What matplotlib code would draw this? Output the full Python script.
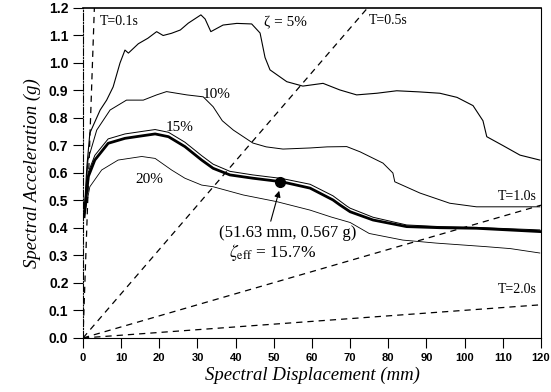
import numpy as np
import matplotlib.pyplot as plt

# damping 5%
x5 = [0.3, 1.0, 1.8, 4.5, 6.2, 7.9, 9.7, 11.0, 11.9, 14.5, 17.0, 19.3, 21.0, 23.2, 25.5, 27.6,
      30.9, 32.0, 33.5, 36.7, 40.3, 44.2, 46.4, 47.7, 49.0, 53.4, 57.6, 62.9, 67.3, 71.7,
      77.0, 82.2, 88.0, 93.5, 98.0, 102.2, 104.8, 105.8, 110.0, 114.5, 119.7]
y5 = [0.44, 0.62, 0.745, 0.829, 0.865, 0.913, 1.0, 1.047, 1.036, 1.07, 1.09, 1.114, 1.10, 1.108,
      1.12, 1.145, 1.175, 1.16, 1.114, 1.138, 1.144, 1.142, 1.109, 1.02, 0.975, 0.932, 0.916,
      0.926, 0.902, 0.884, 0.89, 0.899, 0.895, 0.89, 0.875, 0.845, 0.79, 0.732, 0.70, 0.665, 0.647]

# damping 10%
x10 = [0.3, 1.3, 3.6, 7.1, 11.4, 15.8, 19.3, 21.9, 27.2, 31.5, 34.1, 36.5, 39.4, 44.5, 48.0,
       52.4, 59.5, 64.0, 69.1, 72.6, 78.6, 81.2, 81.7, 88.3, 96.1, 103.1, 110.0, 119.7]
y10 = [0.44, 0.647, 0.756, 0.829, 0.865, 0.865, 0.884, 0.896, 0.884, 0.877, 0.841, 0.79,
       0.756, 0.709, 0.695, 0.687, 0.691, 0.695, 0.696, 0.677, 0.636, 0.60, 0.568, 0.527,
       0.49, 0.477, 0.477, 0.477]

# damping 15%
x15 = [0.3, 1.4, 3.1, 6.6, 11.0, 15.4, 18.9, 22.4, 26.7, 31.1, 34.1, 38.5, 44.5, 52.1, 59.5,
       65.5, 69.1, 70.0, 76.0, 84.8, 93.5, 103.1, 119.7]
y15 = [0.447, 0.603, 0.664, 0.724, 0.742, 0.751, 0.758, 0.748, 0.712, 0.663, 0.632, 0.606,
       0.593, 0.58, 0.559, 0.517, 0.48, 0.472, 0.439, 0.411, 0.405, 0.402, 0.393]

# effective damping 15.7%
xe = [0.3, 1.4, 3.1, 6.6, 11.0, 15.4, 18.9, 22.4, 26.7, 31.1, 34.1, 38.5, 44.5, 52.1, 59.5,
      65.5, 67.3, 70.0, 76.0, 84.8, 93.5, 103.1, 119.7]
ye = [0.441, 0.587, 0.647, 0.708, 0.726, 0.735, 0.742, 0.732, 0.696, 0.647, 0.617, 0.593,
      0.581, 0.568, 0.545, 0.502, 0.484, 0.459, 0.429, 0.405, 0.401, 0.399, 0.387]

# damping 20%
x20 = [0.3, 1.8, 4.9, 9.2, 15.4, 18.9, 23.2, 26.7, 31.1, 34.1, 42.0, 50.7, 59.5, 65.0, 70.0,
       75.0, 83.8, 92.6, 105.7, 112.0, 119.7]
y20 = [0.44, 0.55, 0.611, 0.647, 0.66, 0.653, 0.611, 0.581, 0.556, 0.55, 0.52, 0.496, 0.465,
       0.44, 0.42, 0.38, 0.356, 0.345, 0.332, 0.325, 0.309]

periods = [0.1, 0.5, 1.0, 2.0]
perf_point = (51.63, 0.567)

plt.rcParams['font.family'] = ['Liberation Serif', 'DejaVu Serif']
plt.rcParams['mathtext.fontset'] = 'stix'

fig = plt.figure(figsize=(5.51, 3.92), dpi=100)
ax = fig.add_axes([0.1506, 0.1378, 0.8312, 0.8418])

# constant period lines: Sa = (2*pi/T)^2 * Sd / g
for T in periods:
    slope = (2 * np.pi / T) ** 2 / 1000.0 / 9.81
    ax.axline((0, 0), slope=slope, color='black', lw=0.9, ls=(0, (5, 4)))

ax.plot(x5, y5, color='black', lw=0.8)
ax.plot(x10, y10, color='black', lw=0.7)
ax.plot(x15, y15, color='black', lw=0.7)
ax.plot(xe, ye, color='black', lw=2.0)
ax.plot(x20, y20, color='black', lw=0.6)
ax.plot(*perf_point, 'o', color='black', ms=7)

ax.annotate('', xy=(51.6, 0.545), xytext=(49.0, 0.415),
            arrowprops=dict(arrowstyle='-|>', color='black', lw=0.8, mutation_scale=9))

ax.text(47.5, 1.145, 'ζ = 5%', fontsize=11, va='center')
ax.text(35.0, 0.885, '10%', fontsize=11, va='center', ha='center')
ax.text(25.4, 0.765, '15%', fontsize=11, va='center', ha='center')
ax.text(17.5, 0.575, '20%', fontsize=11, va='center', ha='center')
ax.text(4.5, 1.15, 'T=0.1s', fontsize=10, va='center')
ax.text(75.0, 1.155, 'T=0.5s', fontsize=10, va='center')
ax.text(119.0, 0.513, 'T=1.0s', fontsize=10, va='center', ha='right')
ax.text(119.0, 0.175, 'T=2.0s', fontsize=10, va='center', ha='right')
ax.text(35.6, 0.38, '(51.63 mm, 0.567 g)', fontsize=12, va='center')
ax.text(38.3, 0.31, r'$\zeta_{\rm eff}$ = 15.7%', fontsize=12.5, va='center')

ax.set_xlim(0, 120)
ax.set_ylim(0, 1.2)
ax.set_xticks(np.arange(0, 121, 10))
ax.set_yticks(np.arange(0, 1.21, 0.1))
ax.set_yticklabels([f'{v:.1f}' for v in np.arange(0, 1.21, 0.1)])
ax.tick_params(direction='out', length=7, width=0.8)
for lab in ax.get_xticklabels() + ax.get_yticklabels():
    lab.set_family('Liberation Sans')
    lab.set_fontweight('bold')
for lab in ax.get_xticklabels():
    lab.set_fontsize(8)
for lab in ax.get_yticklabels():
    lab.set_fontsize(10)
ax.spines['left'].set_linestyle('-.')
for s in ax.spines.values():
    s.set_linewidth(0.8)
ax.spines['top'].set_linewidth(1.2)

ax.set_xlabel('Spectral Displacement (mm)', fontsize=13.5, style='italic', labelpad=3)
ax.set_ylabel('Spectral Acceleration (g)', fontsize=13.5, style='italic', labelpad=6)

fig.savefig('out.png', dpi=100)
